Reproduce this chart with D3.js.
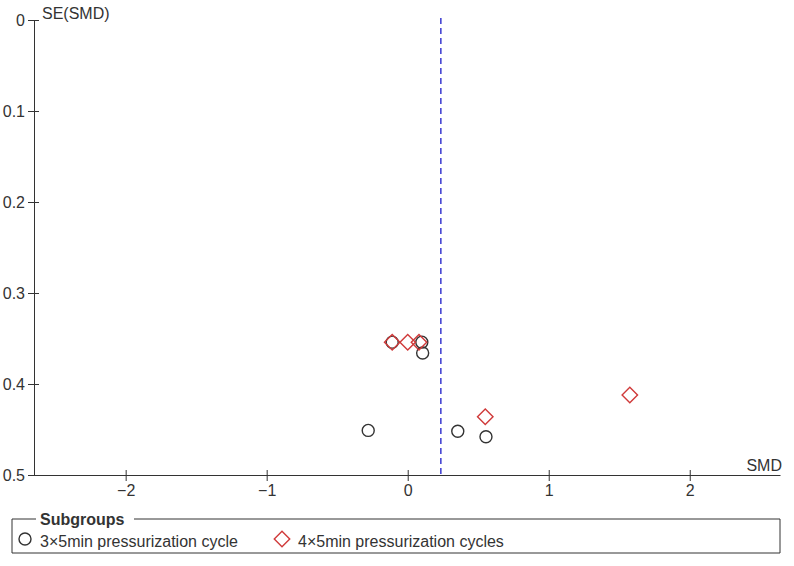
<!DOCTYPE html>
<html>
<head>
<meta charset="utf-8">
<script src="https://cdn.jsdelivr.net/npm/d3@7"></script>
<style>
  body { margin: 0; background: #fff; }
  svg text { font-family: "Liberation Sans", Arial, sans-serif; fill: #333; }
</style>
</head>
<body>
<svg id="chart" width="794" height="566"></svg>
<script>
// funnel plot data (SMD, SE)
const circleSMD = [-0.11, 0.10, 0.106, -0.28, 0.355, 0.555];
const circleSE = [0.354, 0.354, 0.366, 0.451, 0.452, 0.458];
const diamondSMD = [-0.11, 0.0, 0.08, 0.55, 1.575];
const diamondSE = [0.354, 0.354, 0.354, 0.436, 0.412];
const pooledSMD = 0.235;
const xTicks = [-2, -1, 0, 1, 2];
const yTicks = [0, 0.1, 0.2, 0.3, 0.4, 0.5];
const legendLabels = ['3×5min pressurization cycle', '4×5min pressurization cycles'];

const FS = '16px';
const svg = d3.select('#chart');
const x = d3.scaleLinear().domain([-2.65, 2.64]).range([34, 780]);
const y = d3.scaleLinear().domain([0, 0.5]).range([20, 475]);

// y axis
const yAxis = svg.append('g').attr('transform', 'translate(34,0)')
    .call(d3.axisLeft(y).tickValues(yTicks).tickFormat(d => d === 0 ? '0' : d3.format('.1f')(d)).tickSize(6).tickSizeOuter(0));
yAxis.select('.domain').attr('stroke', '#333');
yAxis.selectAll('.tick line').attr('stroke', '#333').attr('x2', 5).attr('x1', -6);
yAxis.selectAll('.tick text').attr('x', -9).style('font-size', FS).style('font-family', '"Liberation Sans", Arial, sans-serif').attr('fill', '#333');

// x axis
const xAxis = svg.append('g').attr('transform', 'translate(0,475)')
    .call(d3.axisBottom(x).tickValues(xTicks).tickFormat(d3.format('d')).tickSize(6).tickSizeOuter(0));
xAxis.select('.domain').attr('stroke', '#333');
xAxis.selectAll('.tick line').attr('stroke', '#333').attr('y1', -5).attr('y2', 6);
xAxis.selectAll('.tick text').attr('y', 10).style('font-size', FS).style('font-family', '"Liberation Sans", Arial, sans-serif').attr('fill', '#333');

svg.append('text').attr('x', 42).attr('y', 19).style('font-size', FS).text('SE(SMD)');
svg.append('text').attr('x', 782).attr('y', 471).attr('text-anchor', 'end').style('font-size', FS).text('SMD');

// pooled estimate line
svg.append('line')
    .attr('x1', x(pooledSMD)).attr('x2', x(pooledSMD))
    .attr('y1', 18).attr('y2', 475)
    .attr('stroke', '#3a3ad0').attr('stroke-width', 1.5).attr('stroke-dasharray', '6,4');

// points
const circles = circleSMD.map((d, i) => ({ smd: d, se: circleSE[i] }));
const diamonds = diamondSMD.map((d, i) => ({ smd: d, se: diamondSE[i] }));

svg.selectAll('circle.pt').data(circles).enter().append('circle')
    .attr('class', 'pt')
    .attr('cx', d => x(d.smd)).attr('cy', d => y(d.se)).attr('r', 6)
    .attr('fill', 'none').attr('stroke', '#333').attr('stroke-width', 1.4);

const dSym = d3.symbol().type(d3.symbolSquare).size(120);
svg.selectAll('path.dm').data(diamonds).enter().append('path')
    .attr('class', 'dm')
    .attr('d', dSym)
    .attr('transform', d => `translate(${x(d.smd)},${y(d.se)}) rotate(45)`)
    .attr('fill', 'none').attr('stroke', '#d03a3a').attr('stroke-width', 1.4);

// legend
const lg = svg.append('g');
lg.append('path')
    .attr('d', 'M36,519 H12 V553 H780 V519 H134')
    .attr('fill', 'none').attr('stroke', '#333').attr('stroke-width', 1);
lg.append('text').attr('x', 40).attr('y', 525).style('font-size', FS).style('font-weight', 'bold').text('Subgroups');
lg.append('circle').attr('cx', 25).attr('cy', 539).attr('r', 6)
    .attr('fill', 'none').attr('stroke', '#333').attr('stroke-width', 1.4);
lg.append('text').attr('x', 40).attr('y', 547).style('font-size', FS).text(legendLabels[0]);
lg.append('path').attr('d', dSym)
    .attr('transform', 'translate(282,539) rotate(45)')
    .attr('fill', 'none').attr('stroke', '#d03a3a').attr('stroke-width', 1.4);
lg.append('text').attr('x', 298).attr('y', 547).style('font-size', FS).text(legendLabels[1]);
</script>
</body>
</html>
